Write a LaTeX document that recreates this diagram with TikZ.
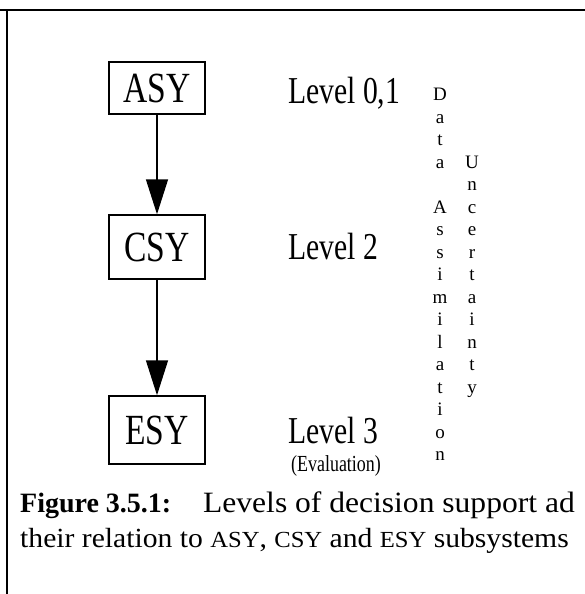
\documentclass[tikz,border=0pt]{standalone}
\usepackage{fontspec}
\setmainfont{Liberation Serif}
\newfontfamily\labelfont[FakeStretch=0.78]{Liberation Serif}
\newfontfamily\capfont[FakeStretch=1.07]{Liberation Serif}
\usetikzlibrary{arrows.meta}
\begin{document}
\begin{tikzpicture}[x=1pt,y=-1pt,
  subsys/.style={draw, line width=1.5pt, minimum width=96pt,
    inner sep=0pt, font=\labelfont\fontsize{43}{43}\selectfont},
  levellabel/.style={anchor=base west, inner sep=0pt, font=\labelfont\fontsize{38}{38}\selectfont},
  sublabel/.style={anchor=base west, inner sep=0pt, font=\labelfont\fontsize{23}{23}\selectfont},
  flow/.style={line width=1.5pt, -{Triangle[length=35pt,width=22pt]}},
  vertword/.style={anchor=north, inner sep=0pt, align=center, font=\fontsize{19}{22.5}\selectfont},
  captext/.style={inner sep=0pt, font=\capfont\fontsize{27.7}{28}\selectfont},
]
\useasboundingbox (0,0) rectangle (585,594);

% frame
\draw[line width=2.5pt] (0,10) -- (585,10);
\draw[line width=2pt] (7,10) -- (7,594);

% subsystems
\node[subsys, minimum height=52pt] (asy) at (157,88) {ASY};
\node[subsys, minimum height=64pt] (csy) at (157,247) {CSY};
\node[subsys, minimum height=68pt] (esy) at (157,430) {ESY};

\draw[flow] (asy) -- (csy);
\draw[flow] (csy) -- (esy);

% levels
\node[levellabel] (l01) at (288,103) {Level 0,1};
\node[levellabel] (l2) at (288,259) {Level 2};
\node[levellabel] (l3) at (288,443) {Level 3};
\node[sublabel] (ev) at (291,471) {(Evaluation)};

% vertical words
\node[vertword] (da) at (440,88) {D\\a\\t\\a\\[22.5pt]A\\s\\s\\i\\m\\i\\l\\a\\t\\i\\o\\n};
\node[vertword] (unc) at (472,155.5) {U\\n\\c\\e\\r\\t\\a\\i\\n\\t\\y};

% caption
\node[inner sep=0pt, anchor=base west, font=\fontsize{28}{28}\selectfont\bfseries] (fig) at (20,512) {Figure 3.5.1:};
\node[captext, anchor=base east, font=\capfont\fontsize{29.5}{30}\selectfont] (cap1) at (575,512) {Levels of decision support ad};
\node[captext, anchor=base west] (cap2) at (20,547) {their relation to {\fontsize{23}{23}\selectfont ASY}, {\fontsize{23}{23}\selectfont CSY} and {\fontsize{23}{23}\selectfont ESY} subsystems};
\end{tikzpicture}
\end{document}
